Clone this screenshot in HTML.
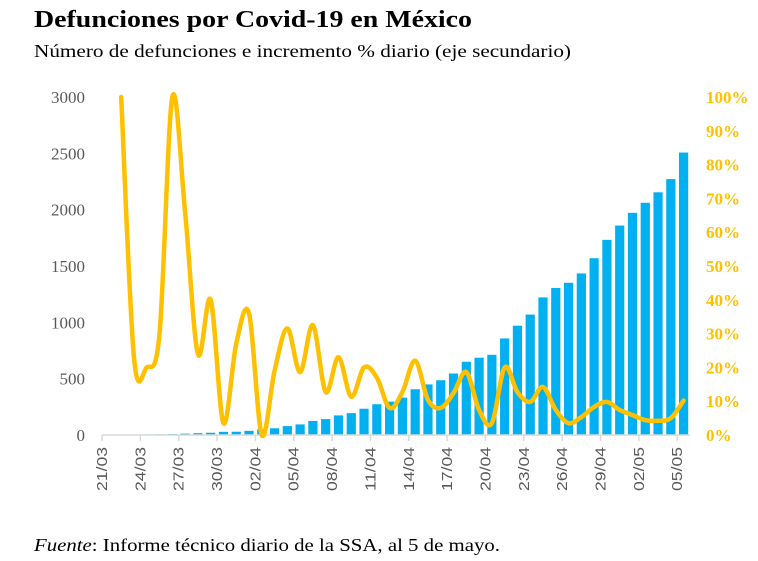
<!DOCTYPE html>
<html><head><meta charset="utf-8"><style>
body{margin:0;background:#fff;width:758px;height:561px;overflow:hidden}
svg{display:block}
</style></head><body>
<svg id="c" width="758" height="561" xmlns="http://www.w3.org/2000/svg">
<text x="34" y="27" font-family="Liberation Serif, serif" font-weight="bold" font-size="24" textLength="438" lengthAdjust="spacingAndGlyphs" fill="#000">Defunciones por Covid-19 en México</text>
<text x="34" y="57" font-family="Liberation Serif, serif" font-size="18" textLength="537" lengthAdjust="spacingAndGlyphs" fill="#000">Número de defunciones e incremento % diario (eje secundario)</text>
<text x="34" y="551" font-family="Liberation Serif, serif" font-size="18" textLength="466" lengthAdjust="spacingAndGlyphs" fill="#000"><tspan font-style="italic">Fuente</tspan>: Informe técnico diario de la SSA, al 5 de mayo.</text>
<g id="plot"></g>
</svg>
<script>
const dates=["21/03","22/03","23/03","24/03","25/03","26/03","27/03","28/03","29/03","30/03","31/03","01/04","02/04","03/04","04/04","05/04","06/04","07/04","08/04","09/04","10/04","11/04","12/04","13/04","14/04","15/04","16/04","17/04","18/04","19/04","20/04","21/04","22/04","23/04","24/04","25/04","26/04","27/04","28/04","29/04","30/04","01/05","02/05","03/05","04/05","05/05"];
const deaths=[2,2,4,5,6,8,12,16,20,28,29,37,50,60,79,94,125,141,174,194,233,273,296,332,406,449,486,546,650,686,712,857,970,1069,1221,1305,1351,1434,1569,1732,1859,1972,2061,2154,2271,2507];
const pct=[null,100,23,20,30,100,66,24,40,3.5,27,36,0,19,31.5,18.6,32.5,12.7,23,11.3,20,17,8,12.7,22,10.4,8,12.4,18.6,7.4,3.5,20,12.7,9.8,14.2,7.4,3.5,5.3,8.3,9.8,7.4,5.9,4.4,4.2,5,10.2];
const leftTicks=[0,500,1000,1500,2000,2500,3000];
const rightTicks=[0,10,20,30,40,50,60,70,80,90,100];
const NS="http://www.w3.org/2000/svg";
const g=document.getElementById('plot');
const X0=102,X1=690,Y0=435,Y1=97;
const bw=(X1-X0)/dates.length;
const xc=i=>X0+(i+0.5)*bw;
const yL=v=>Y0-(v/3000)*(Y0-Y1);
const yR=v=>Y0-(v/100)*(Y0-Y1);
function mk(t,a){const e=document.createElementNS(NS,t);for(const k in a)e.setAttribute(k,a[k]);g.appendChild(e);return e;}
leftTicks.forEach(v=>{const t=mk('text',{x:85,y:yL(v)+6,'text-anchor':'end','font-family':'Liberation Serif, serif','font-size':'17',fill:'#595959'});t.textContent=v;

});
rightTicks.forEach(v=>{const t=mk('text',{x:706,y:yR(v)+6,'font-family':'Liberation Serif, serif','font-size':'17','font-weight':'bold',fill:'#FFC000'});t.textContent=v+'%';

});
deaths.forEach((v,i)=>{const r=mk('rect',{x:xc(i)-4.6,y:yL(v),width:9.2,height:Y0-yL(v),fill:'#00B0F0'});

});
const ax=mk('line',{x1:X0,x2:X1,y1:Y0,y2:Y0,stroke:'#d9d9d9','stroke-width':1.5});


dates.forEach((d,i)=>{if(i%3)return;const tx=X0+i*bw;
const tk=mk('line',{x1:tx,x2:tx,y1:Y0,y2:Y0+6,stroke:'#d9d9d9','stroke-width':1.5});


const t=mk('text',{x:0,y:0,'text-anchor':'end','font-family':'Liberation Sans, sans-serif','font-size':'15',textLength:'44',lengthAdjust:'spacingAndGlyphs',fill:'#595959',transform:`translate(${tx+5},${Y0+12}) rotate(-90)`});t.textContent=d;

});
const pts=[];pct.forEach((v,i)=>{if(v!=null)pts.push([xc(i),yR(v)]);});
let dstr='M'+pts[0][0]+','+pts[0][1];
for(let i=0;i<pts.length-1;i++){const p0=pts[Math.max(0,i-1)],p1=pts[i],p2=pts[i+1],p3=pts[Math.min(pts.length-1,i+2)];
const c1=[p1[0]+(p2[0]-p0[0])/6,p1[1]+(p2[1]-p0[1])/6],c2=[p2[0]-(p3[0]-p1[0])/6,p2[1]-(p3[1]-p1[1])/6];
dstr+=` C${c1[0]},${c1[1]} ${c2[0]},${c2[1]} ${p2[0]},${p2[1]}`;}
const ln=mk('path',{d:dstr,fill:'none',stroke:'#FFC000','stroke-width':4.5,'stroke-linejoin':'round','stroke-linecap':'round'});


</script>
</body></html>
